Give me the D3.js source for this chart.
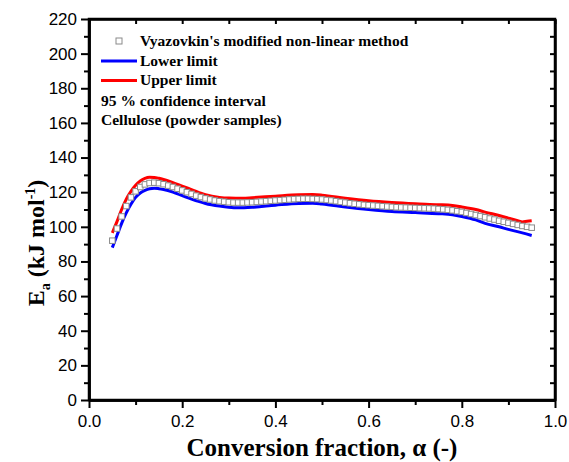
<!DOCTYPE html>
<html>
<head>
<meta charset="utf-8">
<script src="https://cdn.jsdelivr.net/npm/d3@7/dist/d3.min.js"></script>
<style>
  body { margin: 0; background: #fff; }
  svg { display: block; }
</style>
</head>
<body>
<svg id="chart" width="569" height="462"></svg>
<script>
// conversion fraction for the square markers (step 0.01)
const alphaPts = d3.range(5, 96).map(i => i / 100);
const ePts = [
  92, 99, 106, 112, 117, 120.5, 123, 124.5, 125.3, 125.5,
  125.2, 124.6, 123.8, 123, 122, 121, 120, 119, 118, 117.2,
  116.4, 115.8, 115.2, 114.8, 114.5, 114.2, 114, 114, 114, 114.1,
  114.2, 114.4, 114.6, 114.8, 115, 115.2, 115.4, 115.6, 115.8, 116,
  116.1, 116.2, 116.2, 116.1, 116, 115.8, 115.5, 115.2, 114.8, 114.4,
  114, 113.6, 113.3, 113, 112.7, 112.5, 112.3, 112.1, 111.9, 111.7,
  111.5, 111.3, 111.2, 111.1, 111, 110.9, 110.8, 110.7, 110.6, 110.5,
  110.3, 110.1, 109.8, 109.5, 109, 108.6, 108, 107.4, 106.8, 106.2,
  105.5, 104.8, 104.2, 103.5, 102.9, 102.3, 101.7, 101.1, 100.5, 100, 99.5
];

// lower limit (blue)
const alphaLow = [0.05, 0.06, 0.07, 0.08, 0.09, 0.10, 0.11, 0.12, 0.13, 0.14, 0.15, 0.16, 0.18, 0.20, 0.22, 0.25, 0.28, 0.30, 0.32, 0.35, 0.40, 0.45, 0.48, 0.50, 0.55, 0.60, 0.65, 0.70, 0.75, 0.78, 0.80, 0.83, 0.85, 0.88, 0.90, 0.93, 0.95];
const eLow = [88, 95, 102, 108, 113, 117, 119.5, 121, 122, 122.3, 122, 121.5, 120, 118, 116, 113.5, 112, 111.3, 111, 111.3, 112.5, 113.5, 113.6, 113.2, 111.5, 110, 108.8, 108.2, 107.6, 107, 106, 104, 102, 100, 98.5, 96.5, 95];

// upper limit (red)
const alphaUp = [0.05, 0.06, 0.07, 0.08, 0.09, 0.10, 0.11, 0.12, 0.13, 0.14, 0.15, 0.16, 0.18, 0.20, 0.22, 0.25, 0.28, 0.30, 0.33, 0.35, 0.40, 0.45, 0.48, 0.50, 0.55, 0.60, 0.65, 0.70, 0.75, 0.78, 0.80, 0.83, 0.85, 0.88, 0.90, 0.92, 0.93, 0.94, 0.95];
const eUp = [96.5, 103, 110, 116, 120.5, 124, 126.5, 128, 128.6, 128.5, 128, 127.3, 125.5, 123.5, 121.5, 118.5, 117, 116.6, 116.5, 116.8, 117.7, 118.5, 118.6, 118.3, 116.5, 115, 114, 113.3, 112.8, 112.3, 111.5, 110, 108.5, 106.5, 105, 103.5, 102.8, 103.2, 103.5];

const xTicks = [0, 0.2, 0.4, 0.6, 0.8, 1.0];
const xMinor = [0.1, 0.3, 0.5, 0.7, 0.9];
const yTicks = d3.range(0, 221, 20);
const yMinor = d3.range(10, 220, 20);

const legendItems = ["Vyazovkin's modified non-linear method", "Lower limit", "Upper limit"];
const notes = ["95 % confidence interval", "Cellulose (powder samples)"];

const svg = d3.select('#chart');
const m = { left: 89, right: 555, top: 19, bottom: 400 };

const x = d3.scaleLinear().domain([0, 1]).range([m.left, m.right]);
const y = d3.scaleLinear().domain([0, 220]).range([m.bottom, m.top]);

const tickFont = '"Liberation Sans", Arial, sans-serif';
const serif = '"Liberation Serif", "Times New Roman", serif';

// frame
svg.append('rect')
  .attr('x', m.left).attr('y', m.top)
  .attr('width', m.right - m.left).attr('height', m.bottom - m.top)
  .attr('fill', 'none').attr('stroke', '#000').attr('stroke-width', 2.5);

// bottom axis
const bx = svg.append('g').attr('transform', `translate(0,${m.bottom})`)
  .call(d3.axisBottom(x).tickValues(xTicks).tickFormat(d3.format('.1f')).tickSize(8).tickSizeOuter(0));
svg.append('g').attr('transform', `translate(0,${m.bottom})`)
  .call(d3.axisBottom(x).tickValues(xMinor).tickFormat('').tickSize(5).tickSizeOuter(0));

// left axis
const ly = svg.append('g').attr('transform', `translate(${m.left},0)`)
  .call(d3.axisLeft(y).tickValues(yTicks).tickSize(8).tickSizeOuter(0));
svg.append('g').attr('transform', `translate(${m.left},0)`)
  .call(d3.axisLeft(y).tickValues(yMinor).tickFormat('').tickSize(5).tickSizeOuter(0));

// top and right inward ticks
svg.append('g').attr('transform', `translate(0,${m.top})`)
  .call(d3.axisBottom(x).tickValues(xTicks.concat(xMinor)).tickFormat('').tickSize(5).tickSizeOuter(0));
svg.append('g').attr('transform', `translate(${m.right},0)`)
  .call(d3.axisLeft(y).tickValues(yTicks.concat(yMinor)).tickFormat('').tickSize(5).tickSizeOuter(0));

svg.selectAll('.domain').attr('stroke', '#000').attr('stroke-width', 2.5);
svg.selectAll('.tick line').attr('stroke', '#000').attr('stroke-width', 2);
svg.selectAll('.tick text').attr('fill', '#000').style('font-family', tickFont).style('font-size', '17px');
bx.selectAll('.tick text').attr('dy', '0.95em');
ly.selectAll('.tick text').attr('dx', '-1px');

// lines
const line = d3.line().x(d => x(d[0])).y(d => y(d[1])).curve(d3.curveMonotoneX);

svg.append('path')
  .datum(d3.zip(alphaUp, eUp))
  .attr('d', line).attr('fill', 'none').attr('stroke', '#ff0000').attr('stroke-width', 3);

svg.append('path')
  .datum(d3.zip(alphaLow, eLow))
  .attr('d', line).attr('fill', 'none').attr('stroke', '#0000ff').attr('stroke-width', 3);

// squares
const sq = 5.5;
svg.append('g').selectAll('rect')
  .data(d3.zip(alphaPts, ePts))
  .join('rect')
  .attr('x', d => x(d[0]) - sq / 2)
  .attr('y', d => y(d[1]) - sq / 2)
  .attr('width', sq).attr('height', sq)
  .attr('fill', '#fff').attr('stroke', '#8a8a8a').attr('stroke-width', 1);

// legend
const lg = svg.append('g').style('font-family', serif).style('font-weight', 'bold').style('font-size', '15.5px');
lg.append('rect').attr('x', 116).attr('y', 38).attr('width', 6).attr('height', 6)
  .attr('fill', '#fff').attr('stroke', '#8a8a8a').attr('stroke-width', 1);
lg.append('line').attr('x1', 101).attr('x2', 137).attr('y1', 61).attr('y2', 61)
  .attr('stroke', '#0000ff').attr('stroke-width', 3);
lg.append('line').attr('x1', 101).attr('x2', 137).attr('y1', 80.5).attr('y2', 80.5)
  .attr('stroke', '#ff0000').attr('stroke-width', 3);
lg.selectAll('text.item')
  .data(legendItems)
  .join('text').attr('class', 'item')
  .attr('x', 140).attr('y', (d, i) => 46 + i * 19.5)
  .text(d => d);
lg.selectAll('text.note')
  .data(notes)
  .join('text').attr('class', 'note')
  .attr('x', 101).attr('y', (d, i) => 106 + i * 19)
  .text(d => d);

// axis titles
svg.append('text')
  .attr('x', (m.left + m.right) / 2).attr('y', 456)
  .attr('text-anchor', 'middle')
  .style('font-family', serif).style('font-weight', 'bold').style('font-size', '25px')
  .text('Conversion fraction, \u03b1 (-)');

const yt = svg.append('text')
  .attr('transform', 'translate(44,243) rotate(-90)')
  .attr('text-anchor', 'middle')
  .style('font-family', serif).style('font-weight', 'bold').style('font-size', '24px');
yt.append('tspan').text('E');
yt.append('tspan').attr('dy', 6).style('font-size', '14px').text('a');
yt.append('tspan').attr('dy', -6).text(' (kJ mol');
yt.append('tspan').attr('dy', -9).style('font-size', '14px').text('-1');
yt.append('tspan').attr('dy', 9).text(')');
</script>
</body>
</html>
